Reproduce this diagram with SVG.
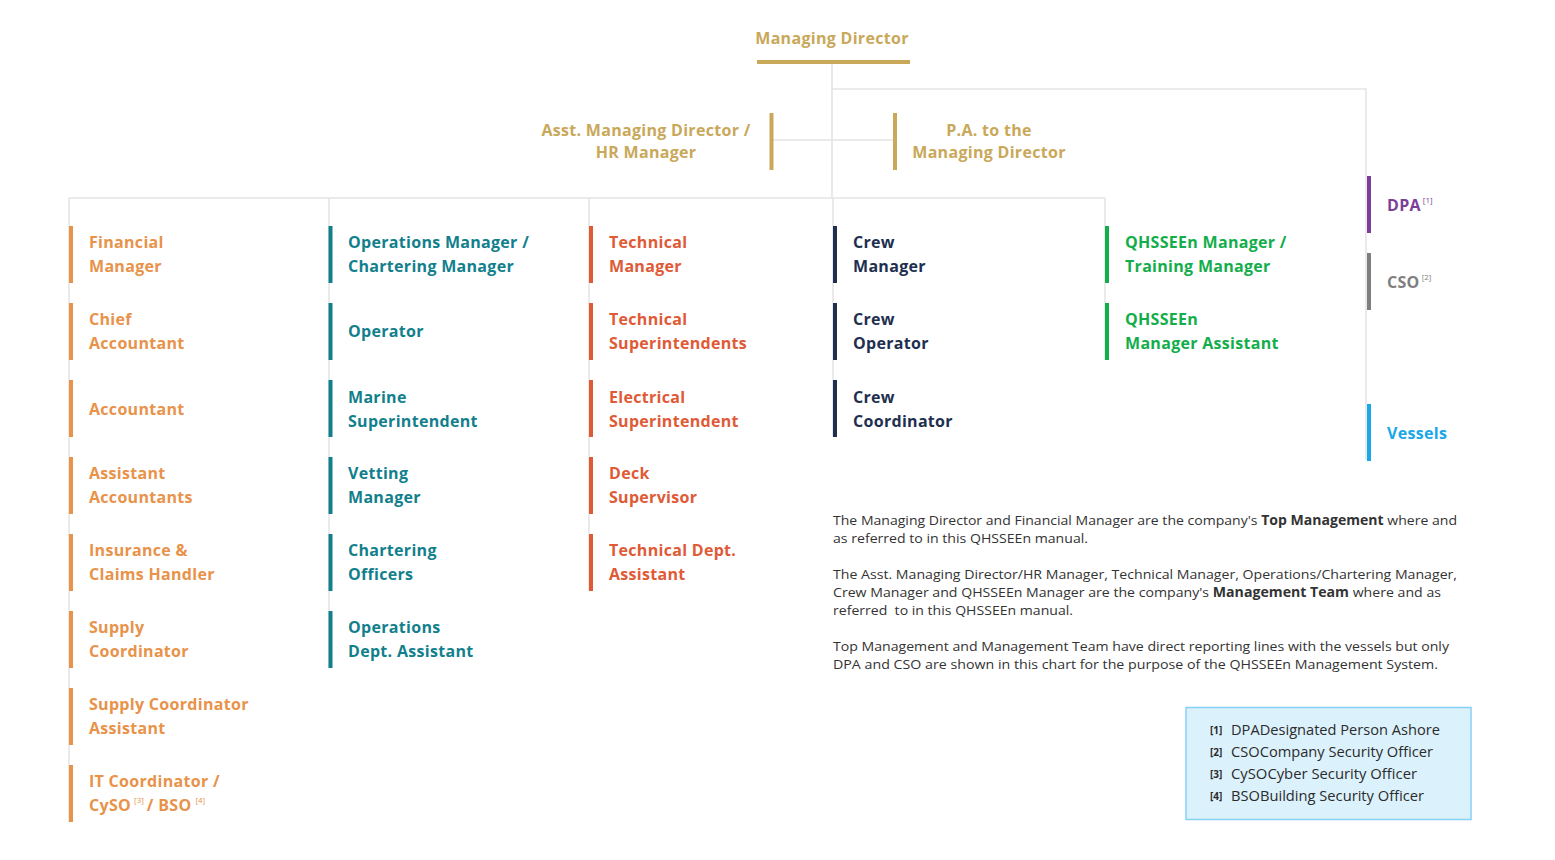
<svg xmlns="http://www.w3.org/2000/svg" width="1555" height="860" viewBox="0 0 1555 860">
<style>
.t{font-family:"Open Sans",Lato,"Liberation Sans",sans-serif;font-weight:700;font-size:16px;letter-spacing:0.3px}
.gold{fill:#c9a85a}.org{fill:#e8924a}.teal{fill:#127f8d}.red{fill:#e05a36}.navy{fill:#1e2f50}.grn{fill:#13ae4b}.pur{fill:#7c3f98}.gry{fill:#7f7f7f}.blu{fill:#1aa8e8}
.sup{font-size:8px;font-weight:400;letter-spacing:0}
.ln{stroke:#e5e5e5;stroke-width:1.6;fill:none}
.p{font-family:"Open Sans",Lato,"Liberation Sans",sans-serif;font-size:13.5px;fill:#333}
.lg{font-family:"Open Sans",Lato,"Liberation Sans",sans-serif;font-size:14px;fill:#2b2b2b;font-weight:500}
.lgn{font-family:"Open Sans",Lato,"Liberation Sans",sans-serif;font-size:10px;fill:#2b2b2b;font-weight:700}
</style>
<rect width="1555" height="860" fill="#fff"/>
<g id="connectors">
<path class="ln" d="M832 64V198M832 89H1366V460M773 140H893M69 198H1105M69 198V822M329 198V668M589 198V591M833 198V437M1105 198V360"/>
</g>
<g id="md"><text class="t gold" x="832" y="44" text-anchor="middle">Managing Director</text><rect x="757" y="60" width="153" height="4" fill="#c9a85a"/></g>
<g id="amd"><rect x="769.5" y="113" width="4" height="57" fill="#c9a85a"/><text class="t gold" text-anchor="middle"><tspan x="646" y="136">Asst. Managing Director /</tspan><tspan x="646" y="158">HR Manager</tspan></text></g>
<g id="pa"><rect x="893" y="113" width="4" height="57" fill="#c9a85a"/><text class="t gold" text-anchor="middle"><tspan x="989" y="136">P.A. to the</tspan><tspan x="989" y="158">Managing Director</tspan></text></g>

<g id="fin1"><rect x="69" y="226" width="4" height="57" fill="#e8924a"/><text class="t org"><tspan x="89" y="248">Financial</tspan><tspan x="89" y="272">Manager</tspan></text></g>
<g id="fin2"><rect x="69" y="303" width="4" height="57" fill="#e8924a"/><text class="t org"><tspan x="89" y="325">Chief</tspan><tspan x="89" y="349">Accountant</tspan></text></g>
<g id="fin3"><rect x="69" y="380" width="4" height="57" fill="#e8924a"/><text class="t org" x="89" y="415">Accountant</text></g>
<g id="fin4"><rect x="69" y="457" width="4" height="57" fill="#e8924a"/><text class="t org"><tspan x="89" y="479">Assistant</tspan><tspan x="89" y="503">Accountants</tspan></text></g>
<g id="fin5"><rect x="69" y="534" width="4" height="57" fill="#e8924a"/><text class="t org"><tspan x="89" y="556">Insurance &amp;</tspan><tspan x="89" y="580">Claims Handler</tspan></text></g>
<g id="fin6"><rect x="69" y="611" width="4" height="57" fill="#e8924a"/><text class="t org"><tspan x="89" y="633">Supply</tspan><tspan x="89" y="657">Coordinator</tspan></text></g>
<g id="fin7"><rect x="69" y="688" width="4" height="57" fill="#e8924a"/><text class="t org"><tspan x="89" y="710">Supply Coordinator</tspan><tspan x="89" y="734">Assistant</tspan></text></g>
<g id="fin8"><rect x="69" y="765" width="4" height="57" fill="#e8924a"/><text class="t org"><tspan x="89" y="787">IT Coordinator /</tspan><tspan x="89" y="811">CySO</tspan><tspan class="sup" dx="3" dy="-8">[3]</tspan><tspan dx="3" dy="8">/ BSO</tspan><tspan class="sup" dx="4" dy="-8">[4]</tspan></text></g>

<g id="ops1"><rect x="328.5" y="226" width="4" height="57" fill="#127f8d"/><text class="t teal"><tspan x="348" y="248">Operations Manager /</tspan><tspan x="348" y="272">Chartering Manager</tspan></text></g>
<g id="ops2"><rect x="328.5" y="303" width="4" height="57" fill="#127f8d"/><text class="t teal" x="348" y="337">Operator</text></g>
<g id="ops3"><rect x="328.5" y="380" width="4" height="57" fill="#127f8d"/><text class="t teal"><tspan x="348" y="403">Marine</tspan><tspan x="348" y="427">Superintendent</tspan></text></g>
<g id="ops4"><rect x="328.5" y="457" width="4" height="57" fill="#127f8d"/><text class="t teal"><tspan x="348" y="479">Vetting</tspan><tspan x="348" y="503">Manager</tspan></text></g>
<g id="ops5"><rect x="328.5" y="534" width="4" height="57" fill="#127f8d"/><text class="t teal"><tspan x="348" y="556">Chartering</tspan><tspan x="348" y="580">Officers</tspan></text></g>
<g id="ops6"><rect x="328.5" y="611" width="4" height="57" fill="#127f8d"/><text class="t teal"><tspan x="348" y="633">Operations</tspan><tspan x="348" y="657">Dept. Assistant</tspan></text></g>

<g id="tec1"><rect x="589" y="226" width="4" height="57" fill="#e05a36"/><text class="t red"><tspan x="609" y="248">Technical</tspan><tspan x="609" y="272">Manager</tspan></text></g>
<g id="tec2"><rect x="589" y="303" width="4" height="57" fill="#e05a36"/><text class="t red"><tspan x="609" y="325">Technical</tspan><tspan x="609" y="349">Superintendents</tspan></text></g>
<g id="tec3"><rect x="589" y="380" width="4" height="57" fill="#e05a36"/><text class="t red"><tspan x="609" y="403">Electrical</tspan><tspan x="609" y="427">Superintendent</tspan></text></g>
<g id="tec4"><rect x="589" y="457" width="4" height="57" fill="#e05a36"/><text class="t red"><tspan x="609" y="479">Deck</tspan><tspan x="609" y="503">Supervisor</tspan></text></g>
<g id="tec5"><rect x="589" y="534" width="4" height="57" fill="#e05a36"/><text class="t red"><tspan x="609" y="556">Technical Dept.</tspan><tspan x="609" y="580">Assistant</tspan></text></g>

<g id="crw1"><rect x="833" y="226" width="4" height="57" fill="#1e2f50"/><text class="t navy"><tspan x="853" y="248">Crew</tspan><tspan x="853" y="272">Manager</tspan></text></g>
<g id="crw2"><rect x="833" y="303" width="4" height="57" fill="#1e2f50"/><text class="t navy"><tspan x="853" y="325">Crew</tspan><tspan x="853" y="349">Operator</tspan></text></g>
<g id="crw3"><rect x="833" y="380" width="4" height="57" fill="#1e2f50"/><text class="t navy"><tspan x="853" y="403">Crew</tspan><tspan x="853" y="427">Coordinator</tspan></text></g>

<g id="qhs1"><rect x="1105" y="226" width="4" height="57" fill="#13ae4b"/><text class="t grn"><tspan x="1125" y="248">QHSSEEn Manager /</tspan><tspan x="1125" y="272">Training Manager</tspan></text></g>
<g id="qhs2"><rect x="1105" y="303" width="4" height="57" fill="#13ae4b"/><text class="t grn"><tspan x="1125" y="325">QHSSEEn</tspan><tspan x="1125" y="349">Manager Assistant</tspan></text></g>

<g id="dpa"><rect x="1367" y="176" width="4" height="57" fill="#7c3f98"/><text class="t pur" x="1387" y="211">DPA<tspan class="sup" dx="2" dy="-8">[1]</tspan></text></g>
<g id="cso"><rect x="1367" y="253" width="4" height="57" fill="#7f7f7f"/><text class="t gry" x="1387" y="288">CSO<tspan class="sup" dx="2" dy="-8">[2]</tspan></text></g>
<g id="vessels"><rect x="1367" y="404" width="4" height="57" fill="#1aa8e8"/><text class="t blu" x="1387" y="439">Vessels</text></g>

<g id="notes">
<text class="p" x="833" y="525" textLength="624" lengthAdjust="spacingAndGlyphs">The Managing Director and Financial Manager are the company's <tspan font-weight="700">Top Management</tspan> where and</text>
<text class="p" x="833" y="543" textLength="255" lengthAdjust="spacingAndGlyphs">as referred to in this QHSSEEn manual.</text>
<text class="p" x="833" y="579" textLength="624" lengthAdjust="spacingAndGlyphs">The Asst. Managing Director/HR Manager, Technical Manager, Operations/Chartering Manager,</text>
<text class="p" x="833" y="597" textLength="608" lengthAdjust="spacingAndGlyphs">Crew Manager and QHSSEEn Manager are the company's <tspan font-weight="700">Management Team</tspan> where and as</text>
<text class="p" x="833" y="615" textLength="240" lengthAdjust="spacingAndGlyphs" xml:space="preserve">referred  to in this QHSSEEn manual.</text>
<text class="p" x="833" y="651" textLength="616" lengthAdjust="spacingAndGlyphs">Top Management and Management Team have direct reporting lines with the vessels but only</text>
<text class="p" x="833" y="669" textLength="605" lengthAdjust="spacingAndGlyphs">DPA and CSO are shown in this chart for the purpose of the QHSSEEn Management System.</text>
</g>

<g id="legend">
<rect x="1186" y="707.5" width="285" height="112" fill="#dbf1fc" stroke="#86d2f5" stroke-width="1.5"/>
<text class="lgn" x="1210" y="734">[1]</text><text class="lg" x="1231" y="735" textLength="209" lengthAdjust="spacingAndGlyphs">DPADesignated Person Ashore</text>
<text class="lgn" x="1210" y="756">[2]</text><text class="lg" x="1231" y="757" textLength="202" lengthAdjust="spacingAndGlyphs">CSOCompany Security Officer</text>
<text class="lgn" x="1210" y="778">[3]</text><text class="lg" x="1231" y="779" textLength="186" lengthAdjust="spacingAndGlyphs">CySOCyber Security Officer</text>
<text class="lgn" x="1210" y="800">[4]</text><text class="lg" x="1231" y="801" textLength="193" lengthAdjust="spacingAndGlyphs">BSOBuilding Security Officer</text>
</g>
</svg>
